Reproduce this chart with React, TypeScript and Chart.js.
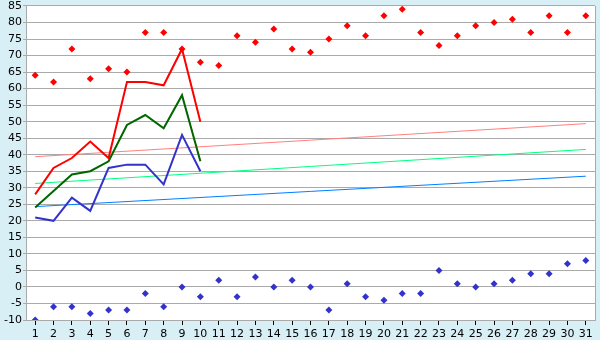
import React, { useEffect, useRef } from "react";
import { Chart, registerables } from "chart.js";

Chart.register(...registerables);

const days = Array.from({ length: 31 }, (_, i) => String(i + 1));

const redLine = [28, 36, 39, 44, 39, 62, 62, 61, 72, 50];
const greenLine = [24, 29, 34, 35, 38, 49, 52, 48, 58, 38];
const blueLine = [21, 20, 27, 23, 36, 37, 37, 31, 46, 35];

const maxRecords = [64, 62, 72, 63, 66, 65, 77, 77, 72, 68, 67, 76, 74, 78, 72, 71, 75, 79, 76, 82, 84, 77, 73, 76, 79, 80, 81, 77, 82, 77, 82];
const minRecords = [-10, -6, -6, -8, -7, -7, -2, -6, 0, -3, 2, -3, 3, 0, 2, 0, -7, 1, -3, -4, -2, -2, 5, 1, 0, 1, 2, 4, 4, 7, 8];

// trend lines: start (day 1) and end (day 31) values
const redTrendEnds = [39.4, 49.4];
const greenTrendEnds = [31.3, 41.6];
const blueTrendEnds = [24.3, 33.5];

const trend = (ends: number[]) => days.map((_, i) => (i === 0 ? ends[0] : i === days.length - 1 ? ends[1] : null));

const bgPlugin = {
  id: "bg",
  beforeDraw(chart: any) {
    const { ctx, chartArea, width, height } = chart;
    ctx.save();
    ctx.fillStyle = "#d9eff6";
    ctx.fillRect(0, 0, width, height);
    ctx.fillStyle = "#ffffff";
    ctx.fillRect(chartArea.left, chartArea.top, chartArea.right - chartArea.left, chartArea.bottom - chartArea.top);
    ctx.restore();
  },
  afterDatasetsDraw(chart: any) {
    const { ctx, chartArea } = chart;
    ctx.save();
    ctx.strokeStyle = "#aaaaaa";
    ctx.lineWidth = 1;
    ctx.beginPath();
    ctx.moveTo(Math.round(chartArea.right) + 0.5, chartArea.top);
    ctx.lineTo(Math.round(chartArea.right) + 0.5, chartArea.bottom);
    ctx.stroke();
    ctx.restore();
  },
};

export default function App() {
  const ref = useRef<HTMLCanvasElement>(null);
  useEffect(() => {
    document.body.style.margin = "0";
    const lineDs = (data: number[], color: string) => ({
      data,
      borderColor: color,
      backgroundColor: color,
      borderWidth: 2,
      pointRadius: 0,
      tension: 0,
      fill: false,
    });
    const dotDs = (data: number[], color: string) => ({
      data,
      showLine: false,
      borderColor: color,
      backgroundColor: color,
      pointStyle: "rectRot",
      pointRadius: 3.5,
      pointBorderWidth: 0,
    });
    const trendDs = (ends: number[], color: string) => ({
      data: trend(ends),
      borderColor: color,
      borderWidth: 1,
      pointRadius: 0,
      spanGaps: true,
      fill: false,
    });
    const chart = new Chart(ref.current!, {
      type: "line",
      data: {
        labels: days,
        datasets: [
          lineDs(redLine, "#ff0000"),
          lineDs(greenLine, "#006600"),
          lineDs(blueLine, "#3333cc"),
          dotDs(maxRecords, "#ff0000"),
          dotDs(minRecords, "#3333cc"),
          trendDs(redTrendEnds, "#ff8080"),
          trendDs(greenTrendEnds, "#00ff80"),
          trendDs(blueTrendEnds, "#0080ff"),
        ] as any,
      },
      options: {
        responsive: false,
        animation: false,
        layout: { padding: { top: 5, right: 5, left: 0, bottom: 0 } },
        plugins: { legend: { display: false }, tooltip: { enabled: false } },
        scales: {
          x: {
            offset: true,
            grid: { drawOnChartArea: false, drawTicks: true, tickLength: 5, color: "#000000" },
            border: { color: "#aaaaaa" },
            ticks: { color: "#000000", font: { family: "DejaVu Sans", size: 11 }, padding: 3, autoSkip: false, maxRotation: 0 },
            afterFit: (s: any) => { s.height = 20; },
          },
          y: {
            min: -10,
            max: 85,
            grid: { color: "#aaaaaa", tickLength: 3 },
            border: { color: "#aaaaaa" },
            ticks: { stepSize: 5, color: "#000000", font: { family: "DejaVu Sans", size: 11, lineHeight: 0.9 }, padding: 1 },
            afterFit: (s: any) => { s.width = 26; },
          },
        },
      },
      plugins: [bgPlugin],
    });
    return () => chart.destroy();
  }, []);
  return <canvas ref={ref} width={600} height={340} style={{ display: "block" }} />;
}
